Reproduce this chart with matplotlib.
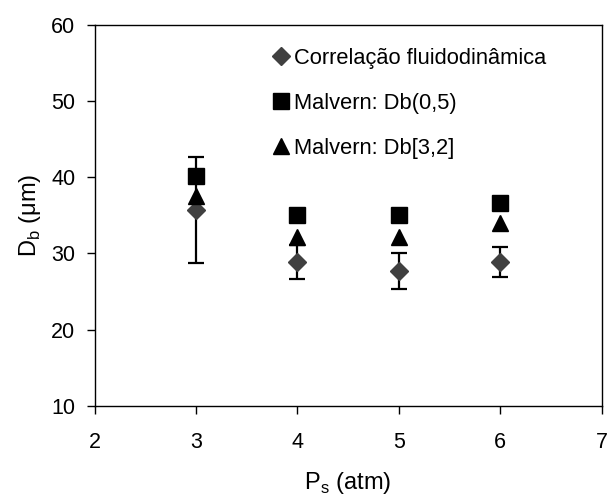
import matplotlib
matplotlib.use("Agg")
import matplotlib.pyplot as plt
from matplotlib.lines import Line2D

plt.rcParams['font.family'] = ['Liberation Sans', 'DejaVu Sans']

# data
pressure = [3, 4, 5, 6]
correlacao = [35.7, 28.9, 27.7, 28.9]
correlacao_err = [7.0, 2.2, 2.4, 2.0]
malvern_d05 = [40.2, 35.0, 35.0, 36.6]
malvern_d32 = [37.5, 32.2, 32.2, 34.0]
labels = ['Correlação fluidodinâmica', 'Malvern: Db(0,5)', 'Malvern: Db[3,2]']

fig = plt.figure(figsize=(6.12, 4.98), dpi=100)
ax = fig.add_axes([0.1547, 0.1853, 0.8283, 0.7645])

ax.errorbar(pressure, correlacao, yerr=correlacao_err, fmt='D', color='#404040',
            ecolor='black', elinewidth=1.6, capsize=6, capthick=1.6, ms=9.5, zorder=2)
ax.plot(pressure, malvern_d05, 's', color='black', ms=11, zorder=3)
ax.plot(pressure, malvern_d32, '^', color='black', ms=11, zorder=3)

ax.set_xlim(2, 7)
ax.set_ylim(10, 60)
ax.set_xticks([2, 3, 4, 5, 6, 7])
ax.set_yticks([10, 20, 30, 40, 50, 60])
ax.tick_params(direction='out', length=6, width=1, labelsize=15.5)
ax.tick_params(axis='x', pad=13)
ax.tick_params(axis='y', pad=8)
for s in ax.spines.values():
    s.set_linewidth(1)

ax.set_xlabel(r'P$_\mathregular{s}$ (atm)', fontsize=17, labelpad=12)
ax.set_ylabel(r'D$_\mathregular{b}$ ($\mathregular{\mu}$m)', fontsize=17, labelpad=6)

handles = [
    Line2D([], [], ls='none', marker='D', color='#404040', ms=9.5),
    Line2D([], [], ls='none', marker='s', color='black', ms=11),
    Line2D([], [], ls='none', marker='^', color='black', ms=11),
]
ax.legend(handles, labels, loc='upper left', bbox_to_anchor=(0.352, 0.94),
          frameon=False, fontsize=15.75, handlelength=0.7, handletextpad=0.25,
          labelspacing=1.1, borderaxespad=0, borderpad=0, numpoints=1)

fig.savefig('out.png', dpi=100)
